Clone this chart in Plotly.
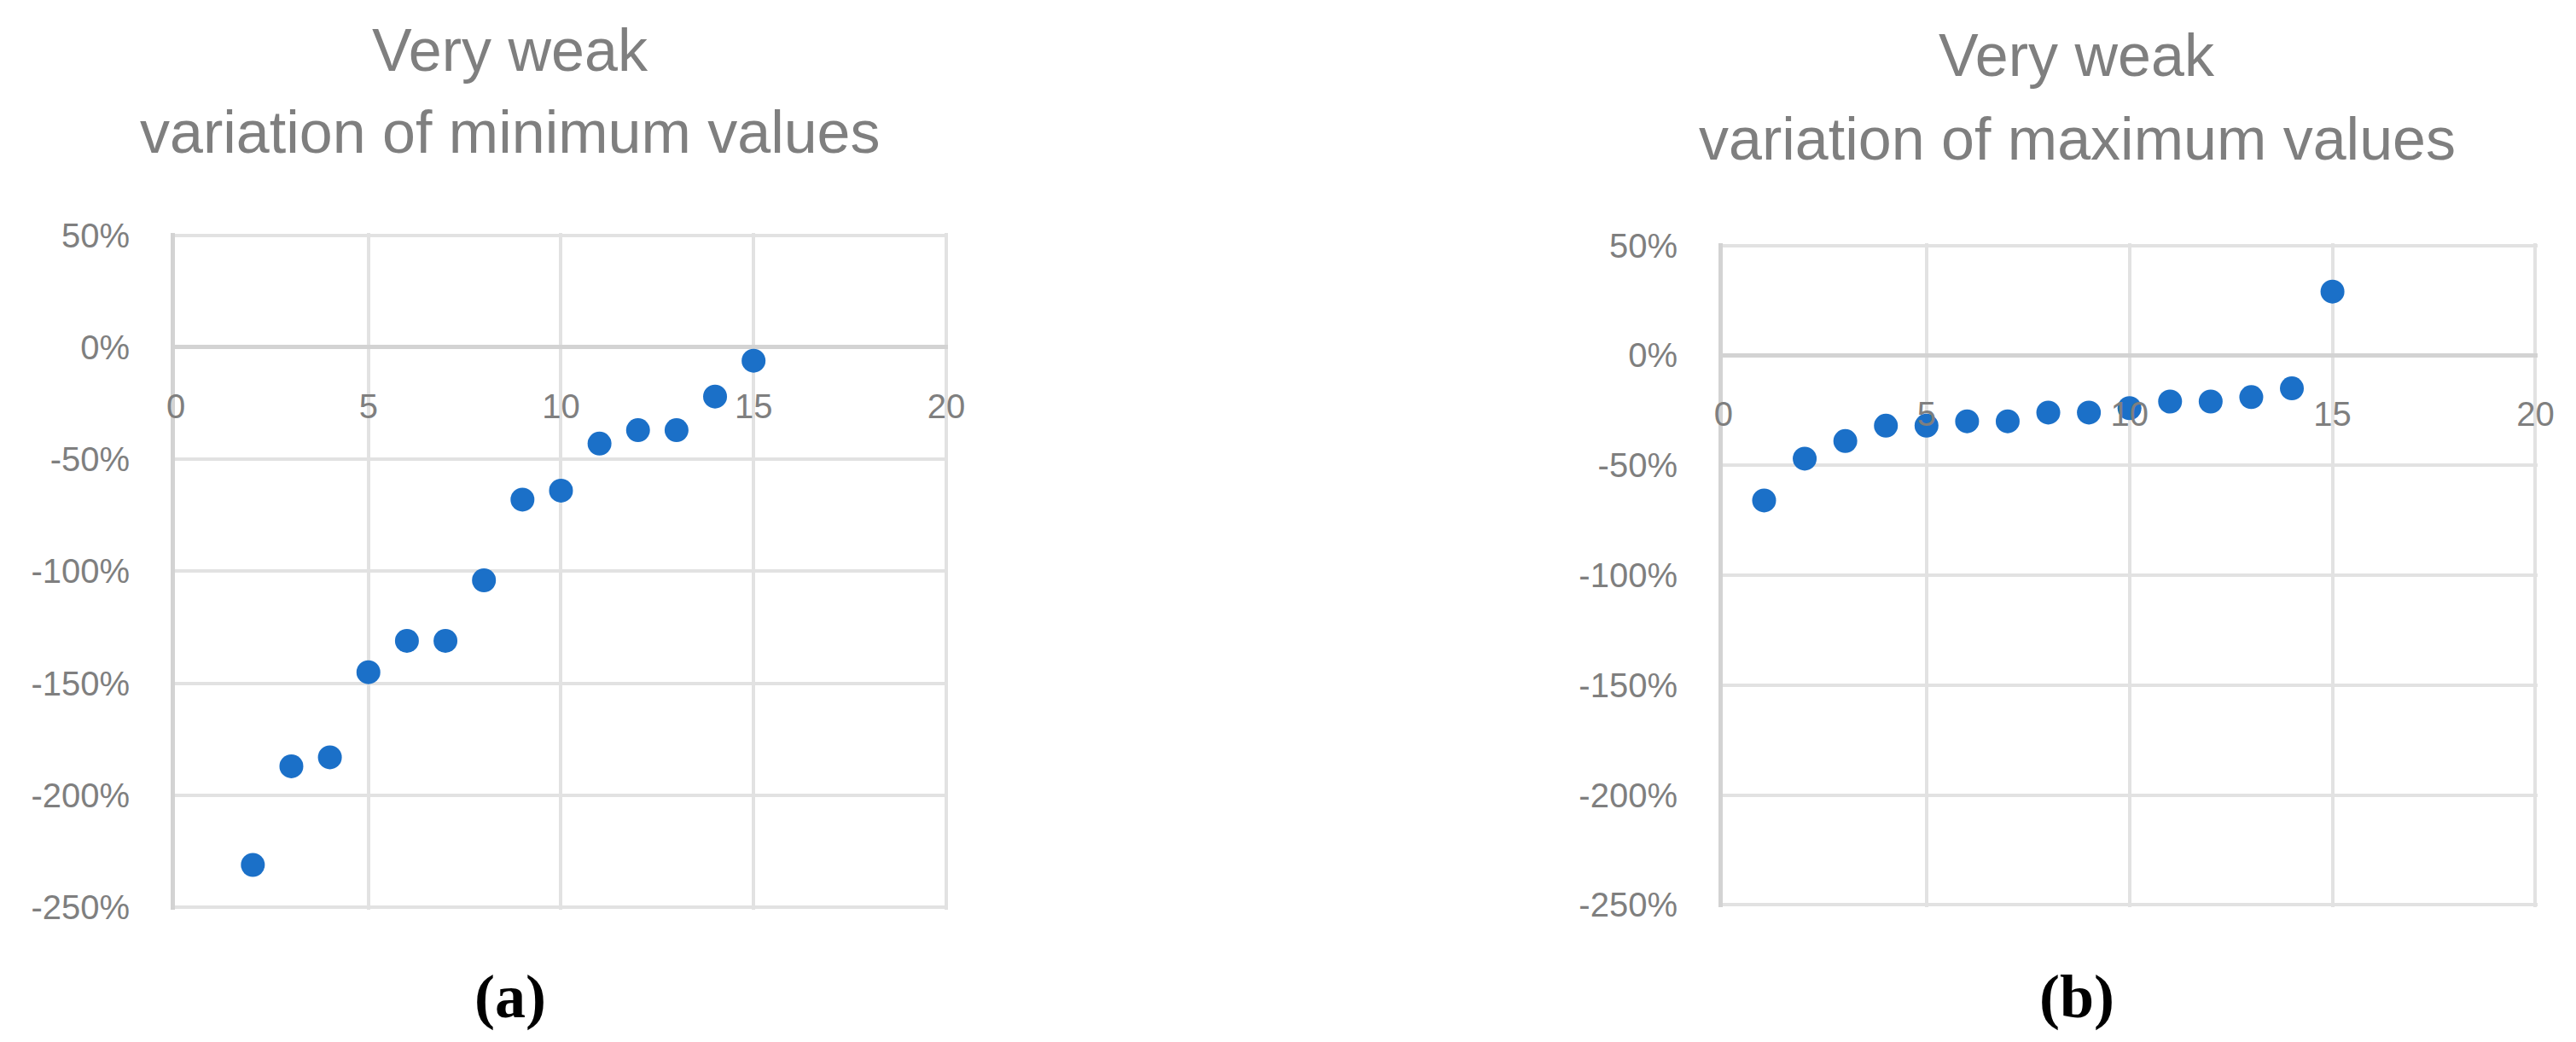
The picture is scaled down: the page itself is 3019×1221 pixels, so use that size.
import plotly.graph_objects as go

# data (values in %)
min_x = [2, 3, 4, 5, 6, 7, 8, 9, 10, 11, 12, 13, 14, 15]
min_y = [-231, -187, -183, -145, -131, -131, -104, -68, -64, -43, -37, -37, -22, -6]

max_x = [1, 2, 3, 4, 5, 6, 7, 8, 9, 10, 11, 12, 13, 14, 15]
max_y = [-66, -47, -39, -32, -32, -30, -30, -26, -26, -24, -21, -21, -19, -15, 29]

x_ticks = [0, 5, 10, 15, 20]
y_tick_vals = [50, 0, -50, -100, -150, -200, -250]
y_tick_text = ["50%", "0%", "-50%", "-100%", "-150%", "-200%", "-250%"]

title_lines = [["Very weak", "variation of minimum values"],
               ["Very weak", "variation of maximum values"]]
panel_labels = ["(a)", "(b)"]

W, H = 3019, 1221
GREY = "#7f7f7f"
GRID = "#e2e2e2"
AXIS = "#d3d3d3"
BLUE = "#1b70c8"
FONT = "Liberation Sans, Arial, sans-serif"
SERIF = "Liberation Serif, Times New Roman, serif"

# tiny padding so plotly keeps the gridlines on the plot edges
x_range = [-0.02, 20.05]
y_range = [-251, 51]

# plot areas in paper coords
x_dom = [[0.0653, 0.3654], [0.6661, 0.9824]]
y_dom = [[0.1335, 0.7830], [0.1360, 0.7731]]

# title line centres / panel label centres (paper coords)
title_x = [0.1954, 0.8036]
title_y = [[0.958, 0.880], [0.9535, 0.873]]
label_y = 0.05


def zero_pos(dom):
    # paper y of the 0% line, where the x axis crosses
    return dom[0] + (0 - y_range[0]) / (y_range[1] - y_range[0]) * (dom[1] - dom[0])


fig = go.Figure()

fig.add_trace(go.Scatter(x=min_x, y=min_y, mode="markers",
                         marker=dict(size=28, color=BLUE),
                         xaxis="x", yaxis="y", showlegend=False))
fig.add_trace(go.Scatter(x=max_x, y=max_y, mode="markers",
                         marker=dict(size=28, color=BLUE),
                         xaxis="x2", yaxis="y2", showlegend=False))

layout = dict(
    width=W, height=H,
    margin=dict(l=0, r=0, t=0, b=0, autoexpand=False),
    paper_bgcolor="white", plot_bgcolor="white",
    showlegend=False,
)

annotations = []
for i in range(2):
    xa = "xaxis" if i == 0 else "xaxis2"
    ya = "yaxis" if i == 0 else "yaxis2"
    xcode = "x" if i == 0 else "x2"
    layout[xa] = dict(
        domain=x_dom[i], range=x_range, anchor="free", position=zero_pos(y_dom[i]),
        tickvals=x_ticks, showgrid=True, gridcolor=GRID, gridwidth=4,
        zeroline=False, showline=False, ticks="", automargin=False,
        tickfont=dict(family=FONT, size=40, color=GREY),
        ticklabelstandoff=42,
    )
    layout[ya] = dict(
        domain=y_dom[i], range=y_range, anchor=xcode,
        tickvals=y_tick_vals, ticktext=y_tick_text,
        showgrid=True, gridcolor=GRID, gridwidth=4,
        zeroline=True, zerolinecolor=AXIS, zerolinewidth=5,
        showline=True, linecolor=AXIS, linewidth=5, ticks="", automargin=False,
        tickfont=dict(family=FONT, size=40, color=GREY),
        ticklabelstandoff=40,
    )
    for j in range(2):
        annotations.append(dict(
            text=title_lines[i][j], x=title_x[i], y=title_y[i][j],
            xref="paper", yref="paper", showarrow=False,
            xanchor="center", yanchor="middle",
            font=dict(family=FONT, size=70, color=GREY)))
    annotations.append(dict(
        text="<b>" + panel_labels[i] + "</b>", x=title_x[i], y=label_y,
        xref="paper", yref="paper", showarrow=False,
        xanchor="center", yanchor="middle",
        font=dict(family=SERIF, size=72, color="black")))

layout["annotations"] = annotations

fig.update_layout(**layout)

fig.write_html("out.html")
